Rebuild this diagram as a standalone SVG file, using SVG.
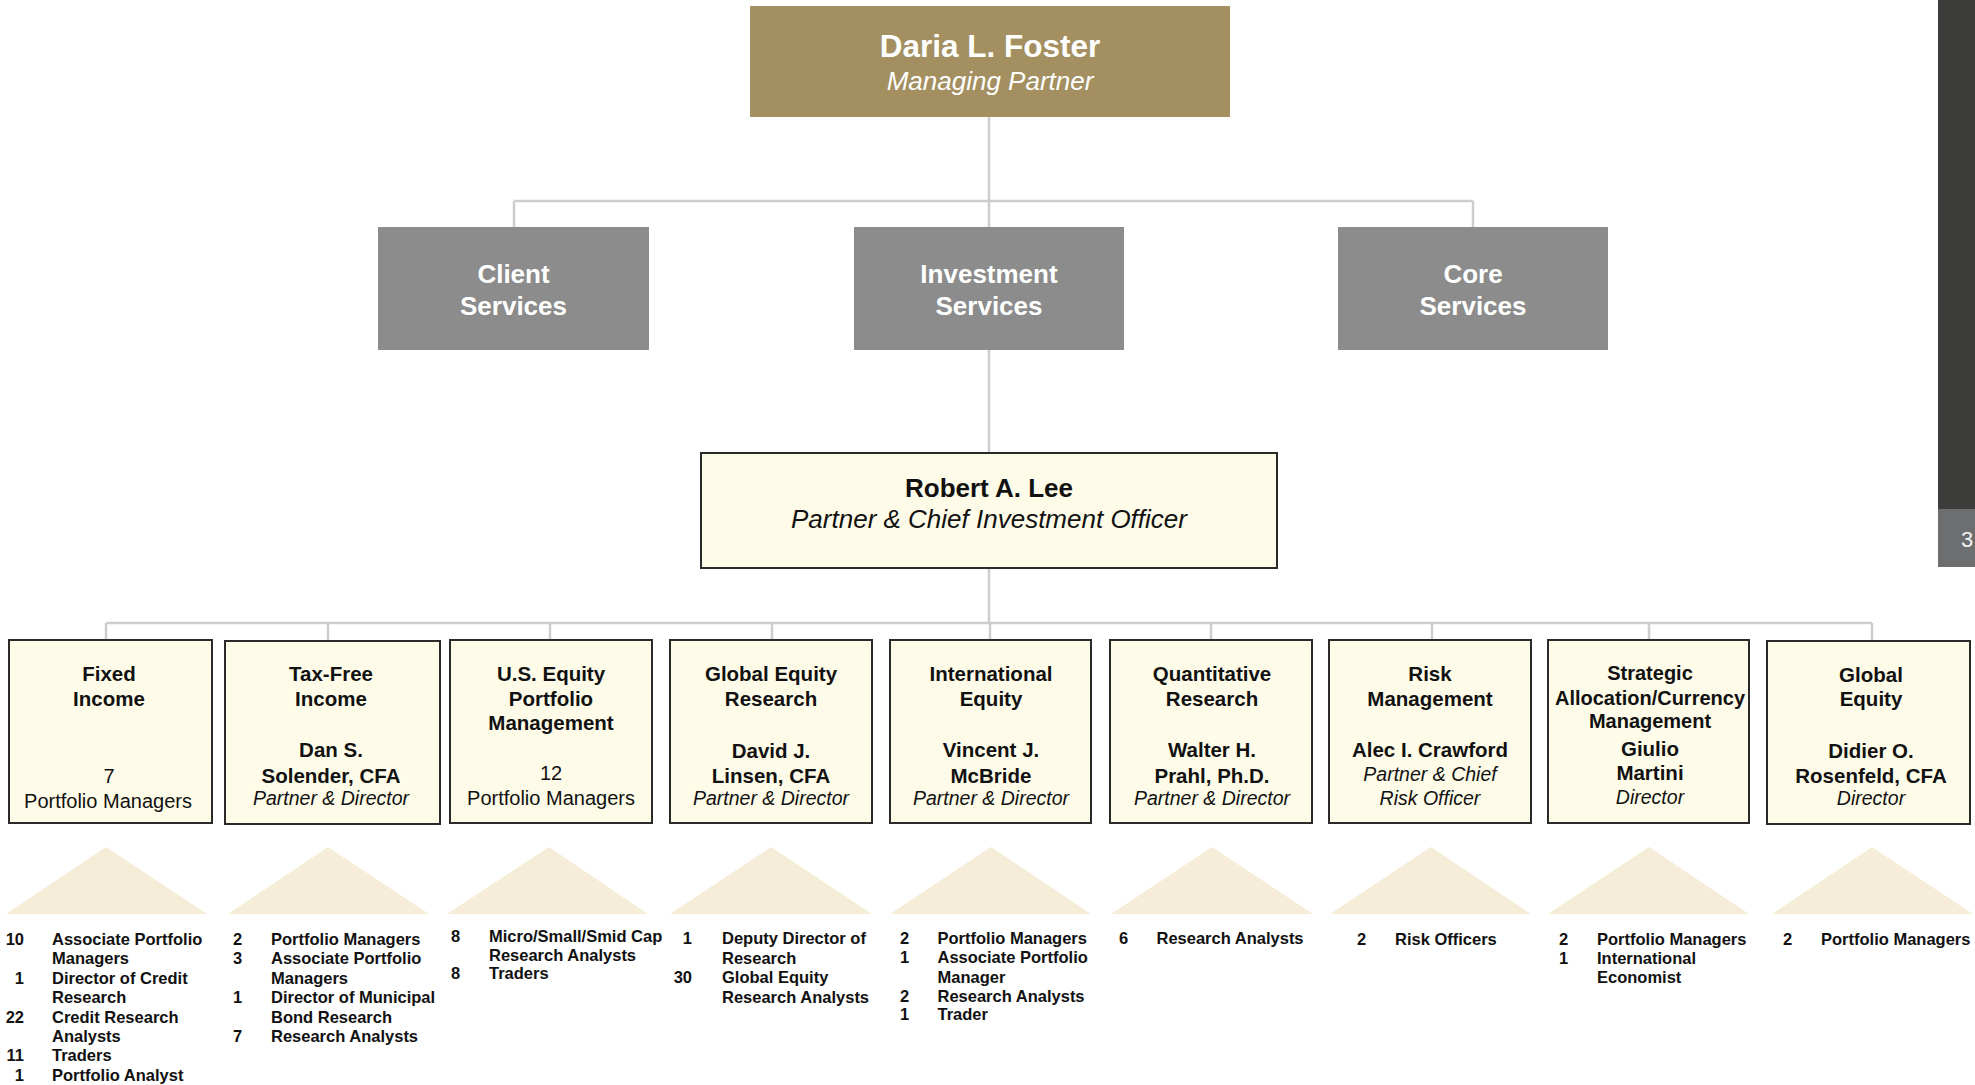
<svg xmlns="http://www.w3.org/2000/svg" width="1975" height="1085" viewBox="0 0 1975 1085">
  <style>
    text { font-family: "Liberation Sans", Arial, Helvetica, sans-serif; }
    .c { text-anchor: middle; }
    .e { text-anchor: end; }
    .b { font-weight: bold; }
    .i { font-style: italic; }
    .wt { fill: #ffffff; }
    .dk { fill: #111111; }
    .gray { fill: #8c8c8c; }
    .unit { fill: #fefce8; stroke: #2a2a2a; stroke-width: 2; }
    .tri { fill: #f5edd7; }
    .t20 { font-size: 20.5px; }
    .tr { font-size: 20px; }
    .t19 { font-size: 19.5px; }
    .lst { font-size: 16.5px; font-weight: bold; fill: #111111; }
    #connectors line { stroke: #cdcdcd; stroke-width: 2.5; }
  </style>

  <!-- side bar with page number -->
  <g id="sidebar">
    <rect x="1938" y="0" width="37" height="509" fill="#3c3c3b"/>
    <rect x="1938" y="509" width="37" height="58" fill="#6d6e70"/>
    <text x="1961" y="547" font-size="22" fill="#f2f2f2">3</text>
  </g>

  <!-- reporting lines -->
  <g id="connectors">
    <line x1="989" y1="117" x2="989" y2="227"/>
    <line x1="514" y1="201" x2="1473" y2="201"/>
    <line x1="514" y1="201" x2="514" y2="227"/>
    <line x1="1473" y1="201" x2="1473" y2="227"/>
    <line x1="989" y1="350" x2="989" y2="453"/>
    <line x1="989" y1="568" x2="989" y2="623"/>
    <line x1="106" y1="623" x2="1872" y2="623"/>
    <line x1="106" y1="623" x2="106" y2="640"/>
    <line x1="328" y1="623" x2="328" y2="641"/>
    <line x1="550" y1="623" x2="550" y2="640"/>
    <line x1="772" y1="623" x2="772" y2="640"/>
    <line x1="990" y1="623" x2="990" y2="640"/>
    <line x1="1211" y1="623" x2="1211" y2="640"/>
    <line x1="1432" y1="623" x2="1432" y2="640"/>
    <line x1="1649" y1="623" x2="1649" y2="640"/>
    <line x1="1872" y1="623" x2="1872" y2="640"/>
  </g>

  <!-- managing partner -->
  <g id="managing-partner">
    <rect x="750" y="6" width="480" height="111" fill="#a38f5f"/>
    <text x="990" y="57" class="c b wt" font-size="31.5">Daria L. Foster</text>
    <text x="990" y="90" class="c i wt" font-size="26">Managing Partner</text>
  </g>

  <!-- service divisions -->
  <g id="client-services">
    <rect x="378" y="227" width="271" height="123" class="gray"/>
    <text x="513.5" y="283" class="c b wt" font-size="26">Client</text>
    <text x="513.5" y="315" class="c b wt" font-size="26">Services</text>
  </g>
  <g id="investment-services">
    <rect x="854" y="227" width="270" height="123" class="gray"/>
    <text x="989" y="283" class="c b wt" font-size="26">Investment</text>
    <text x="989" y="315" class="c b wt" font-size="26">Services</text>
  </g>
  <g id="core-services">
    <rect x="1338" y="227" width="270" height="123" class="gray"/>
    <text x="1473" y="283" class="c b wt" font-size="26">Core</text>
    <text x="1473" y="315" class="c b wt" font-size="26">Services</text>
  </g>

  <!-- chief investment officer -->
  <g id="cio">
    <rect x="701" y="453" width="576" height="115" class="unit"/>
    <text x="989" y="497" class="c b dk" font-size="26">Robert A. Lee</text>
    <text x="989" y="528" class="c i dk" font-size="26">Partner &amp; Chief Investment Officer</text>
  </g>

  <!-- investment teams -->
  <g id="fixed-income">
    <rect x="9" y="640" width="203" height="183" class="unit"/>
    <text x="109" y="681" class="c b dk t20">Fixed</text>
    <text x="109" y="706" class="c b dk t20">Income</text>
    <text x="109" y="783" class="c dk tr">7</text>
    <text x="108" y="808" class="c dk tr">Portfolio Managers</text>
    <polygon points="6,914 106,847 207,914" class="tri"/>
    <text x="24" y="945" class="lst e">10</text>
    <text x="52" y="945" class="lst">Associate Portfolio</text>
    <text x="52" y="964.4" class="lst">Managers</text>
    <text x="24" y="983.8" class="lst e">1</text>
    <text x="52" y="983.8" class="lst">Director of Credit</text>
    <text x="52" y="1003.2" class="lst">Research</text>
    <text x="24" y="1022.6" class="lst e">22</text>
    <text x="52" y="1022.6" class="lst">Credit Research</text>
    <text x="52" y="1042" class="lst">Analysts</text>
    <text x="24" y="1061.4" class="lst e">11</text>
    <text x="52" y="1061.4" class="lst">Traders</text>
    <text x="24" y="1080.8" class="lst e">1</text>
    <text x="52" y="1080.8" class="lst">Portfolio Analyst</text>
  </g>

  <g id="tax-free-income">
    <rect x="225" y="641" width="215" height="183" class="unit"/>
    <text x="331" y="681" class="c b dk t20">Tax-Free</text>
    <text x="331" y="706" class="c b dk t20">Income</text>
    <text x="331" y="757" class="c b dk t20">Dan S.</text>
    <text x="331" y="783" class="c b dk t20">Solender, CFA</text>
    <text x="331" y="805" class="c i dk t19">Partner &amp; Director</text>
    <polygon points="228,914 328,847 429,914" class="tri"/>
    <text x="233" y="945" class="lst">2</text>
    <text x="271" y="945" class="lst">Portfolio Managers</text>
    <text x="233" y="964.4" class="lst">3</text>
    <text x="271" y="964.4" class="lst">Associate Portfolio</text>
    <text x="271" y="983.8" class="lst">Managers</text>
    <text x="233" y="1003.2" class="lst">1</text>
    <text x="271" y="1003.2" class="lst">Director of Municipal</text>
    <text x="271" y="1022.6" class="lst">Bond Research</text>
    <text x="233" y="1042" class="lst">7</text>
    <text x="271" y="1042" class="lst">Research Analysts</text>
  </g>

  <g id="us-equity">
    <rect x="450" y="640" width="202" height="183" class="unit"/>
    <text x="551" y="681" class="c b dk t20">U.S. Equity</text>
    <text x="551" y="706" class="c b dk t20">Portfolio</text>
    <text x="551" y="730" class="c b dk t20">Management</text>
    <text x="551" y="780" class="c dk tr">12</text>
    <text x="551" y="805" class="c dk tr">Portfolio Managers</text>
    <polygon points="447,914 549,847 648,914" class="tri"/>
    <text x="451" y="941.7" class="lst">8</text>
    <text x="489" y="941.7" class="lst">Micro/Small/Smid Cap</text>
    <text x="489" y="960.5" class="lst">Research Analysts</text>
    <text x="451" y="979" class="lst">8</text>
    <text x="489" y="979" class="lst">Traders</text>
  </g>

  <g id="global-equity-research">
    <rect x="670" y="640" width="202" height="183" class="unit"/>
    <text x="771" y="681" class="c b dk t20">Global Equity</text>
    <text x="771" y="706" class="c b dk t20">Research</text>
    <text x="771" y="758" class="c b dk t20">David J.</text>
    <text x="771" y="783" class="c b dk t20">Linsen, CFA</text>
    <text x="771" y="805" class="c i dk t19">Partner &amp; Director</text>
    <polygon points="670,914 771,847 872,914" class="tri"/>
    <text x="692" y="944" class="lst e">1</text>
    <text x="722" y="944" class="lst">Deputy Director of</text>
    <text x="722" y="963.5" class="lst">Research</text>
    <text x="692" y="983" class="lst e">30</text>
    <text x="722" y="983" class="lst">Global Equity</text>
    <text x="722" y="1002.5" class="lst">Research Analysts</text>
  </g>

  <g id="international-equity">
    <rect x="890" y="640" width="201" height="183" class="unit"/>
    <text x="991" y="681" class="c b dk t20">International</text>
    <text x="991" y="706" class="c b dk t20">Equity</text>
    <text x="991" y="757" class="c b dk t20">Vincent J.</text>
    <text x="991" y="783" class="c b dk t20">McBride</text>
    <text x="991" y="805" class="c i dk t19">Partner &amp; Director</text>
    <polygon points="890,914 991,847 1091,914" class="tri"/>
    <text x="900" y="944" class="lst">2</text>
    <text x="937.5" y="944" class="lst">Portfolio Managers</text>
    <text x="900" y="963" class="lst">1</text>
    <text x="937.5" y="963" class="lst">Associate Portfolio</text>
    <text x="937.5" y="982.5" class="lst">Manager</text>
    <text x="900" y="1001.5" class="lst">2</text>
    <text x="937.5" y="1001.5" class="lst">Research Analysts</text>
    <text x="900" y="1020" class="lst">1</text>
    <text x="937.5" y="1020" class="lst">Trader</text>
  </g>

  <g id="quantitative-research">
    <rect x="1110" y="640" width="202" height="183" class="unit"/>
    <text x="1212" y="681" class="c b dk t20">Quantitative</text>
    <text x="1212" y="706" class="c b dk t20">Research</text>
    <text x="1212" y="757" class="c b dk t20">Walter H.</text>
    <text x="1212" y="783" class="c b dk t20">Prahl, Ph.D.</text>
    <text x="1212" y="805" class="c i dk t19">Partner &amp; Director</text>
    <polygon points="1111,914 1212,847 1313,914" class="tri"/>
    <text x="1119" y="944" class="lst">6</text>
    <text x="1156.5" y="944" class="lst">Research Analysts</text>
  </g>

  <g id="risk-management">
    <rect x="1329" y="640" width="202" height="183" class="unit"/>
    <text x="1430" y="681" class="c b dk t20">Risk</text>
    <text x="1430" y="706" class="c b dk t20">Management</text>
    <text x="1430" y="757" class="c b dk t20">Alec I. Crawford</text>
    <text x="1430" y="781" class="c i dk t19">Partner &amp; Chief</text>
    <text x="1430" y="805" class="c i dk t19">Risk Officer</text>
    <polygon points="1330,914 1431,847 1531,914" class="tri"/>
    <text x="1357" y="945" class="lst">2</text>
    <text x="1395" y="945" class="lst">Risk Officers</text>
  </g>

  <g id="strategic-allocation">
    <rect x="1548" y="640" width="201" height="183" class="unit"/>
    <text x="1650" y="680" class="c b dk tr">Strategic</text>
    <text x="1650" y="705" class="c b dk tr">Allocation/Currency</text>
    <text x="1650" y="728" class="c b dk tr">Management</text>
    <text x="1650" y="756" class="c b dk t20">Giulio</text>
    <text x="1650" y="780" class="c b dk t20">Martini</text>
    <text x="1650" y="804" class="c i dk t19">Director</text>
    <polygon points="1548,914 1649,847 1749,914" class="tri"/>
    <text x="1559" y="945" class="lst">2</text>
    <text x="1597" y="945" class="lst">Portfolio Managers</text>
    <text x="1559" y="964" class="lst">1</text>
    <text x="1597" y="964" class="lst">International</text>
    <text x="1597" y="983" class="lst">Economist</text>
  </g>

  <g id="global-equity">
    <rect x="1767" y="641" width="203" height="183" class="unit"/>
    <text x="1871" y="682" class="c b dk t20">Global</text>
    <text x="1871" y="706" class="c b dk t20">Equity</text>
    <text x="1871" y="758" class="c b dk t20">Didier O.</text>
    <text x="1871" y="783" class="c b dk t20">Rosenfeld, CFA</text>
    <text x="1871" y="805" class="c i dk t19">Director</text>
    <polygon points="1772,914 1872,847 1973,914" class="tri"/>
    <text x="1783" y="945" class="lst">2</text>
    <text x="1821" y="945" class="lst">Portfolio Managers</text>
  </g>
</svg>
